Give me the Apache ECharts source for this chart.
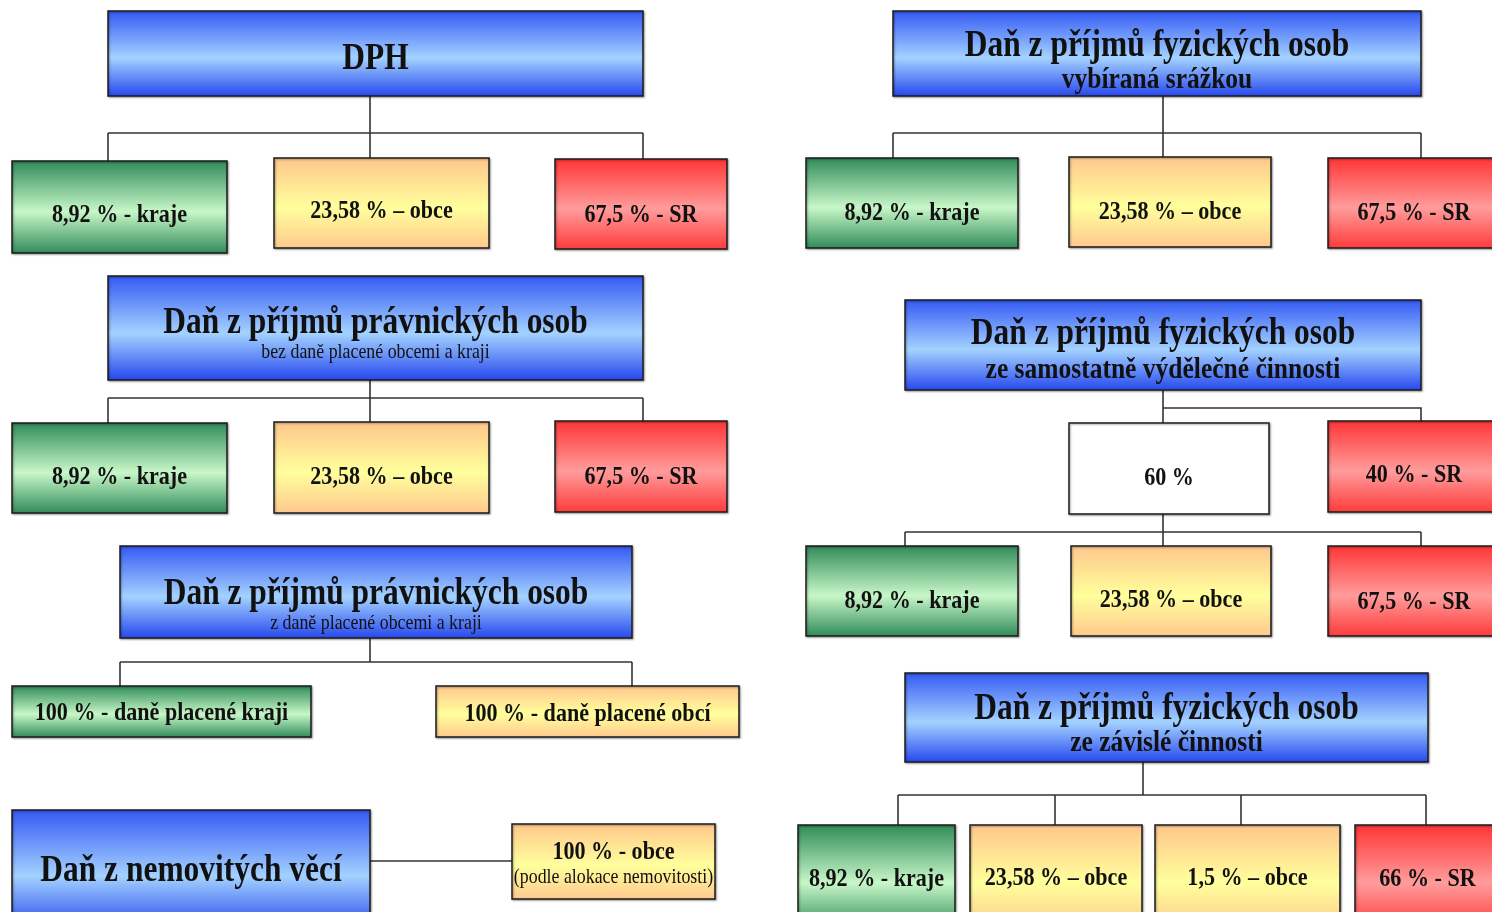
<!DOCTYPE html>
<html>
<head>
<meta charset="utf-8">
<script src="https://cdn.jsdelivr.net/npm/echarts@6/dist/echarts.min.js"></script>
<style>
  html, body { margin: 0; padding: 0; background: #fff; }
  #chart { width: 1492px; height: 912px; }
</style>
</head>
<body>
<div id="chart"></div>
<script>
// texts of the diagram
const dphTitle = ['DPH'];
const shareLabels = ['8,92 % - kraje', '23,58 % – obce', '67,5 % - SR'];
const withheldTitle = ['Daň z příjmů fyzických osob', 'vybíraná srážkou'];
const corpTitle = ['Daň z příjmů právnických osob', 'bez daně placené obcemi a kraji'];
const corpOwnTitle = ['Daň z příjmů právnických osob', 'z daně placené obcemi a kraji'];
const corpOwnShares = ['100 % - daně placené kraji', '100 % - daně placené obcí'];
const selfEmpTitle = ['Daň z příjmů fyzických osob', 'ze samostatně výdělečné činnosti'];
const selfEmpSplit = ['60 %', '40 % - SR'];
const employTitle = ['Daň z příjmů fyzických osob', 'ze závislé činnosti'];
const employShares = ['8,92 % - kraje', '23,58 % – obce', '1,5 % – obce', '66 % - SR'];
const propertyTitle = ['Daň z nemovitých věcí'];
const propertyShare = ['100 % - obce', '(podle alokace nemovitosti)'];

const FONT = '"Liberation Serif", "Times New Roman", serif';
const SQUEEZE = 0.85;
const DY = 2; // small downward nudge of all labels

function grad(a, b, c) {
  return new echarts.graphic.LinearGradient(0, 0, 0, 1, [
    { offset: 0, color: a }, { offset: 0.55, color: b }, { offset: 1, color: c }
  ]);
}
const fills = {
  blue: () => grad('#3358f4', '#a4d2ff', '#2446ee'),
  green: () => grad('#2f8a58', '#c8f7c8', '#2f8a58'),
  yellow: () => grad('#ffc68c', '#ffff9c', '#ffc88e'),
  red: () => grad('#ff3434', '#ff9c9c', '#ff3a3a'),
  white: () => '#ffffff'
};

const els = [];

function text(x, y, str, size, bold) {
  els.push({
    type: 'text', x: x, y: y + DY, scaleX: SQUEEZE, z: 5,
    style: {
      text: str, fill: '#111', align: 'center', verticalAlign: 'middle',
      font: (bold ? 'bold ' : '') + size + 'px ' + FONT
    }
  });
}

// box: [x0, y0, x1, y1], lines: [[label, centerY, size, bold], ...]
function box(r, kind, lines) {
  els.push({
    type: 'rect', z: 2,
    shape: { x: r[0], y: r[1], width: r[2] - r[0], height: r[3] - r[1] },
    style: {
      fill: fills[kind](), stroke: '#1c1c1c', lineWidth: 1.5,
      shadowBlur: 2, shadowOffsetX: 1, shadowOffsetY: 1, shadowColor: 'rgba(0,0,0,0.35)'
    }
  });
  const cx = (r[0] + r[2]) / 2;
  lines.forEach(l => text(cx, l[1], l[0], l[2], l[3]));
}

function line(pts) {
  els.push({
    type: 'polyline', z: 1,
    shape: { points: pts },
    style: { stroke: '#333', lineWidth: 1.6, fill: null }
  });
}

// parent drop -> horizontal bus -> child drops
function bus(px, py, busY, xs, tops) {
  line([[px, py], [px, busY]]);
  line([[Math.min(...xs), busY], [Math.max(...xs), busY]]);
  xs.forEach((x, i) => line([[x, busY], [x, tops[i]]]));
}

const T = 37, SUB = 30, SMALL = 21, CH = 26;

// --- left column ---
// DPH
box([108, 11, 643, 96], 'blue', [[dphTitle[0], 57, T, true]]);
bus(370, 96, 133, [108, 370, 643], [161, 158, 159]);
box([12, 161, 227, 253], 'green', [[shareLabels[0], 213, CH, true]]);
box([274, 158, 489, 248], 'yellow', [[shareLabels[1], 209, CH, true]]);
box([555, 159, 727, 249], 'red', [[shareLabels[2], 213, CH, true]]);

// DPPO without own taxes of municipalities/regions
box([108, 276, 643, 380], 'blue', [[corpTitle[0], 321, T, true], [corpTitle[1], 350, SMALL, false]]);
bus(370, 380, 398, [108, 370, 643], [423, 422, 421]);
box([12, 423, 227, 513], 'green', [[shareLabels[0], 475, CH, true]]);
box([274, 422, 489, 513], 'yellow', [[shareLabels[1], 475, CH, true]]);
box([555, 421, 727, 512], 'red', [[shareLabels[2], 475, CH, true]]);

// DPPO paid by municipalities/regions
box([120, 546, 632, 638], 'blue', [[corpOwnTitle[0], 592, T, true], [corpOwnTitle[1], 621, SMALL, false]]);
bus(370, 638, 662, [120, 632], [686, 686]);
box([12, 686, 311, 737], 'green', [[corpOwnShares[0], 711, CH, true]]);
box([436, 686, 739, 737], 'yellow', [[corpOwnShares[1], 712, CH, true]]);

// property tax
box([12, 810, 370, 930], 'blue', [[propertyTitle[0], 869, T, true]]);
line([[370, 861], [512, 861]]);
box([512, 824, 715, 899], 'yellow', [[propertyShare[0], 850, CH, true], [propertyShare[1], 875, SMALL, false]]);

// --- right column ---
// PIT withheld
box([893, 11, 1421, 96], 'blue', [[withheldTitle[0], 44, T, true], [withheldTitle[1], 78, SUB, true]]);
bus(1163, 96, 133, [893, 1163, 1421], [158, 157, 158]);
box([806, 158, 1018, 248], 'green', [[shareLabels[0], 211, CH, true]]);
box([1069, 157, 1271, 247], 'yellow', [[shareLabels[1], 210, CH, true]]);
box([1328, 158, 1500, 248], 'red', [[shareLabels[2], 211, CH, true]]);

// PIT self-employment
box([905, 300, 1421, 390], 'blue', [[selfEmpTitle[0], 332, T, true], [selfEmpTitle[1], 368, SUB, true]]);
line([[1163, 390], [1163, 423]]);
line([[1163, 408], [1421, 408], [1421, 421]]);
box([1069, 423, 1269, 514], 'white', [[selfEmpSplit[0], 476, CH, true]]);
box([1328, 421, 1500, 512], 'red', [[selfEmpSplit[1], 473, CH, true]]);
bus(1163, 514, 532, [905, 1163, 1421], [546, 546, 546]);
box([806, 546, 1018, 636], 'green', [[shareLabels[0], 599, CH, true]]);
box([1071, 546, 1271, 636], 'yellow', [[shareLabels[1], 598, CH, true]]);
box([1328, 546, 1500, 636], 'red', [[shareLabels[2], 600, CH, true]]);

// PIT employment
box([905, 673, 1428, 762], 'blue', [[employTitle[0], 707, T, true], [employTitle[1], 741, SUB, true]]);
line([[1143, 762], [1143, 795]]);
bus(1143, 795, 795, [898, 1055, 1241, 1426], [825, 825, 825, 825]);
box([798, 825, 955, 930], 'green', [[employShares[0], 877, CH, true]]);
box([970, 825, 1142, 930], 'yellow', [[employShares[1], 876, CH, true]]);
box([1155, 825, 1340, 930], 'yellow', [[employShares[2], 876, CH, true]]);
box([1355, 825, 1500, 930], 'red', [[employShares[3], 877, CH, true]]);

const chart = echarts.init(document.getElementById('chart'));
chart.setOption({
  backgroundColor: '#ffffff',
  animation: false,
  graphic: { elements: els }
});
</script>
</body>
</html>
